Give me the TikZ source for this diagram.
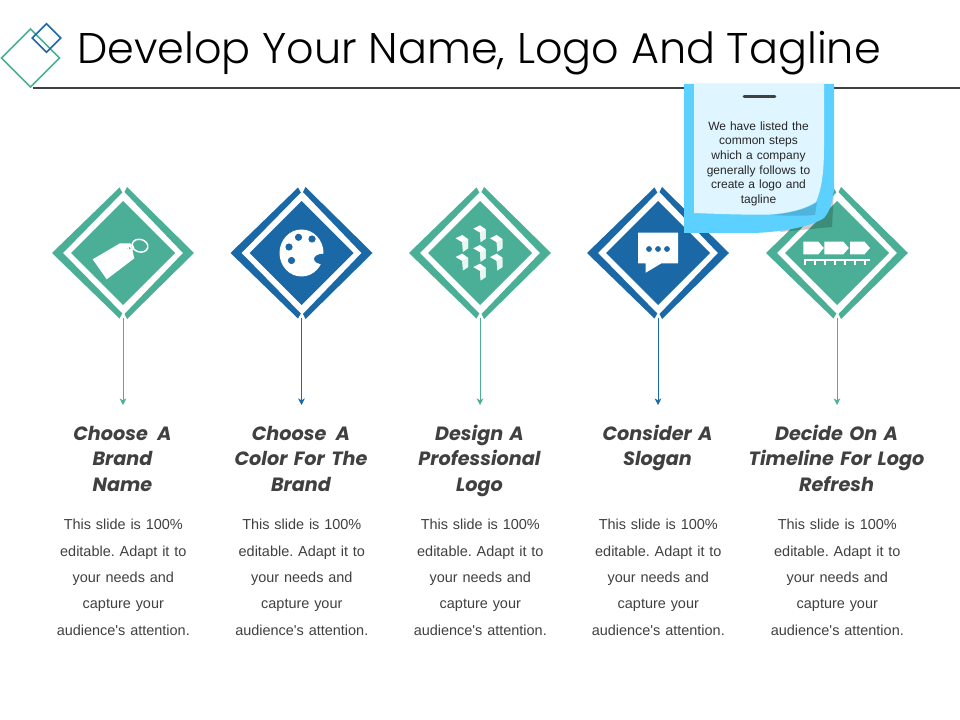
\documentclass[tikz,border=0pt]{standalone}
\usepackage{fontspec}
\setmainfont{Liberation Sans}
\newfontfamily\bodyfont{Liberation Sans}
\newfontfamily\titlefont{Poppins}
\newfontfamily\bigtitlefont{Poppins Light}
\usetikzlibrary{shapes.geometric,arrows.meta}
\definecolor{teal1}{HTML}{4BAF97}
\definecolor{blue1}{HTML}{1A68A6}
\definecolor{ink}{HTML}{404040}
\definecolor{noteout}{HTML}{5CD1FF}
\definecolor{notein}{HTML}{DFF5FF}
\definecolor{noteflap}{HTML}{4FB3DC}
\tikzset{
  x=0.75pt,y=-0.75pt,
  anchorbox/.style={diamond,minimum width=106.5pt,minimum height=97.5pt,aspect=1.09,inner sep=0pt,outer sep=0pt},
  flow/.style={line width=0.55pt,-{Stealth[length=5pt,width=5pt,inset=1.6pt]}},
  heading/.style={font=\titlefont\bfseries\itshape\fontsize{14.4pt}{19.2pt}\selectfont,text=ink,align=center,text width=135pt,anchor=north,inner sep=0pt},
  bodytext/.style={font=\bodyfont\frenchspacing\fontsize{10.85pt}{19.75pt}\selectfont,text=ink,align=center,text width=125pt,anchor=north,inner sep=0pt},
  iconw/.style={fill=white,draw=none},
}
\newcommand{\badge}[3]{% name, x, colour
  \begin{scope}[shift={(#2,253)}]
  \fill[#3] (-71,0)--(-3.5,-65.5)--(-0.7,-60.5)--(-60,0)--(-0.7,60.5)--(-3.5,65.5)--cycle;
  \fill[#3] (71,0)--(4,-66)--(1.5,-61)--(60,0)--(1.5,61)--(4,66)--cycle;
  \fill[#3] (-52,0)--(0,-52)--(52,0)--(0,52)--cycle;
  \end{scope}
  \node[anchorbox] (#1) at (#2,253) {};
}
\begin{document}
\begin{tikzpicture}
\useasboundingbox (0,0) rectangle (960,720);
\fill[white] (0,0) rectangle (960,720);
% logo
\node[diamond,draw=teal1,line width=1.2pt,minimum width=44pt,minimum height=44pt,aspect=1,inner sep=0pt] (logoa) at (30.5,58) {};
\node[diamond,draw=blue1,line width=1.2pt,minimum width=22pt,minimum height=22pt,aspect=1,inner sep=0pt] (logob) at (46.5,38) {};
\node[font=\bigtitlefont\fontsize{32.2pt}{36pt}\selectfont,text=black,anchor=west,inner sep=0pt] (title) at (77,53) {Develop Your Name, Logo And Tagline};
\coordinate (rulea) at (33,88);
\coordinate (ruleb) at (960,88);
\draw[ink,line width=1.4pt] (rulea) -- (ruleb);
% badges
\badge{b1}{123}{teal1}
\badge{b2}{301.5}{blue1}
\badge{b3}{480}{teal1}
\badge{b4}{658}{blue1}
\badge{b5}{837}{teal1}
% tag icon
\begin{scope}[shift={(123,253)}]
 \fill[iconw] (-30.3,6.3)--(-3,-9.7)--(7.7,-9.7)--(11.3,5.3)--(-16.3,26.3)--cycle;
 \fill[teal1] (6,-4.5) circle (1.6);
 \draw[white,line width=1.1pt,rotate around={-15:(17,-7.3)}] (17,-7.3) ellipse (8 and 6.3);
 \draw[white,line width=1pt] (7.7,-5.3) circle (2.8);
\end{scope}
% palette icon
\begin{scope}[shift={(301.5,253)}]
 \fill[white] (0,0) ellipse (22 and 23.5);
 \fill[blue1] (22,6) ellipse (9.5 and 5.3);
 \foreach \p/\q in {-3/-15.7,10.5/-14,-12.5/-6,-10/7.5}{\fill[blue1] (\p,\q) circle (3.6);}
\end{scope}
% cubes icon
\begin{scope}[shift={(480,253)}]
 \foreach \p/\q in {0/-19.7,-17.7/-10,16.7/-10,0/0,-17.7/8.7,16.7/8.7,0/18.7}{
  \begin{scope}[shift={(\p,\q)}]
   \fill[white] (-6.7,-4.7)--(0,-8)--(5.7,-4)--(5.7,5.3)--(0.7,8.7)--(0,-0.7)--cycle;
   \fill[white!88!teal1] (0,-0.7)--(5.7,-4)--(5.7,5.3)--(0.7,8.7)--cycle;
  \end{scope}}
\end{scope}
% chat icon
\begin{scope}[shift={(658,253)}]
 \fill[white] (-20,-20.3)--(20,-20.3)--(20,10.3)--(3.5,10.3)--(-12.3,19.7)--(-12.3,10.3)--(-20,10.3)--cycle;
 \foreach \p in {-9,0,9}{\fill[blue1] (\p,-4) circle (2.9);}
\end{scope}
% timeline icon
\begin{scope}[shift={(837,253)}]
 \foreach \a/\b in {-33.7/-18.7,-12.7/6.3,13/27.5}{
  \fill[white] (\a,-11.3)--(\b,-11.3)--(\b+5.5,-5)--(\b,1.3)--(\a,1.3)--cycle;}
 \fill[white] (-33.5,6.3) rectangle (33,8);
 \foreach \t in {-32,-22,-12,-2,8,18,28}{\fill[white] (\t-0.6,6.5) rectangle (\t+0.6,12);}
\end{scope}
% sticky note
\fill[black,opacity=0.2] (834,190)--(832,227)--(790,231)--(780,232)--(815,180)--cycle;
\fill[noteout] (684,84)--(834,84)--(834,190) .. controls (832,205) and (829,212) .. (824,218) .. controls (812,226) and (785,232) .. (753,233)--(684,233)--cycle;
\fill[noteflap] (817,202) .. controls (810,208) and (790,214) .. (770,215) .. controls (790,216) and (805,216) .. (815,215)--cycle;
\fill[notein] (694,84)--(824,84)--(824,147) .. controls (824,175) and (821,190) .. (816,202) .. controls (805,209) and (790,213) .. (770,214.5) .. controls (745,215) and (720,214) .. (694,213)--cycle;
\coordinate (hda) at (744,96.5);
\coordinate (hdb) at (775,96.5);
\draw[ink,line width=1.9pt,line cap=round] (hda) -- (hdb);
\node[font=\fontsize{9pt}{10.9pt}\selectfont,text=black!85,align=center,text width=110pt,inner sep=0pt,anchor=north] (notetext) at (758.5,121.5) {We have listed the\\common steps\\which a company\\generally follows to\\create a logo and\\tagline};
% columns
\foreach \i/\cx/\col/\h in {
 1/123/teal1/{Choose\,\ A\\Brand\\Name},
 2/301.5/blue1/{Choose\,\ A\\Color For The\\Brand},
 3/480/teal1/{Design A\\Professional\\Logo},
 4/658/blue1/{Consider A\\Slogan},
 5/837/teal1/{Decide On A\\Timeline For Logo\\Refresh}}{
 \coordinate (tip\i) at (\cx,405);
 \draw[flow,\col] (b\i.south) -- (tip\i);
 \node[heading] (h\i) at (\cx-0.5,422) {\strut\h};
 \node[bodytext] (t\i) at (\cx+0.3,511.2) {\strut This slide is 100\%\\editable. Adapt it to\\your needs and\\capture your\\audience's attention.};
}
\end{tikzpicture}
\end{document}
